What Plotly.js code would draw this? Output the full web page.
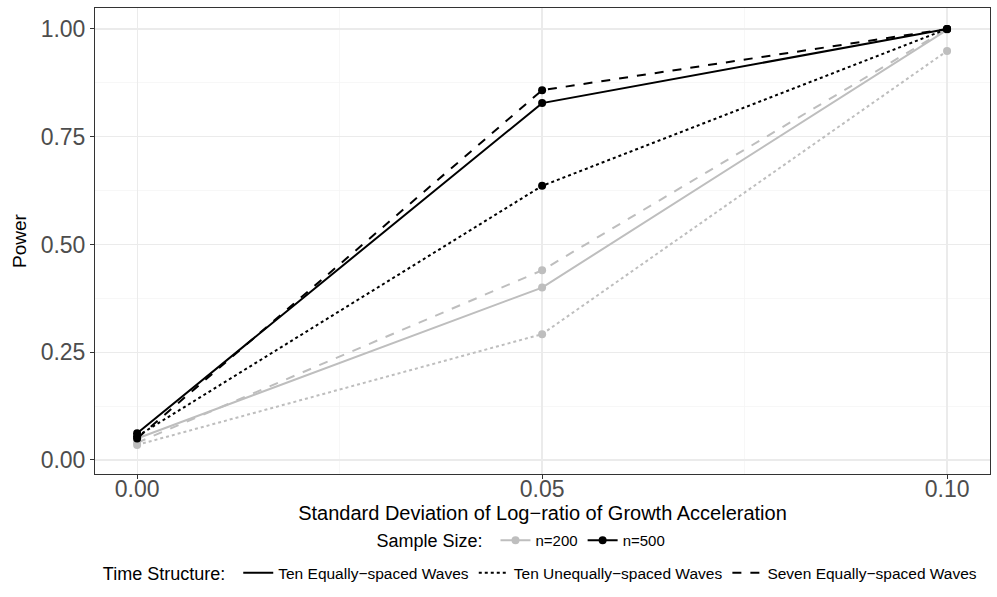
<!DOCTYPE html>
<html>
<head>
<meta charset="utf-8">
<script src="https://cdn.plot.ly/plotly-3.0.1.min.js"></script>
<style>html,body{margin:0;padding:0;background:#fff;}#chart{width:997px;height:597px;}</style>
</head>
<body>
<div id="chart"></div>
<script>
const sdValues = [0.00, 0.05, 0.10];
const sampleSizes = ["n=200", "n=500"];
const timeStructures = ["Ten Equally\u2212spaced Waves", "Ten Unequally\u2212spaced Waves", "Seven Equally\u2212spaced Waves"];
// power[sample][structure]
const power200Equal10 = [0.050, 0.400, 0.998];
const power200Unequal10 = [0.035, 0.292, 0.949];
const power200Equal7 = [0.040, 0.440, 1.000];
const power500Equal10 = [0.062, 0.828, 1.000];
const power500Unequal10 = [0.055, 0.636, 1.000];
const power500Equal7 = [0.050, 0.858, 1.000];

const colors = {"n=200": "#BEBEBE", "n=500": "#000000"};
const dashes = ["solid", "dot", "dash"];
const seriesData = {
  "n=200": [power200Equal10, power200Unequal10, power200Equal7],
  "n=500": [power500Equal10, power500Unequal10, power500Equal7]
};

const traces = [];
sampleSizes.forEach(s => {
  timeStructures.forEach((t, i) => {
    traces.push({
      x: sdValues, y: seriesData[s][i], type: "scatter", mode: "lines+markers",
      line: {color: colors[s], width: 2, dash: dashes[i]},
      marker: {color: colors[s], size: 8},
      showlegend: false, name: s + " " + t, hoverinfo: "x+y"
    });
  });
});
sampleSizes.forEach(s => {
  traces.push({x: [null], y: [null], type: "scatter", mode: "lines+markers",
    line: {color: colors[s], width: 2}, marker: {color: colors[s], size: 8},
    name: s, legend: "legend", showlegend: true});
});
timeStructures.forEach((t, i) => {
  traces.push({x: [null], y: [null], type: "scatter", mode: "lines",
    line: {color: "#000000", width: 2, dash: dashes[i]},
    name: t, legend: "legend2", showlegend: true});
});

const fam = "Liberation Sans, Arial, sans-serif";
const layout = {
  width: 997, height: 597,
  paper_bgcolor: "#fff", plot_bgcolor: "#fff",
  margin: {l: 95, r: 7, t: 8, b: 123},
  font: {family: fam, color: "#000"},
  xaxis: {
    range: [-0.0052, 0.1053], tickvals: sdValues, ticktext: ["0.00", "0.05", "0.10"],
    showgrid: true, gridcolor: "#EBEBEB", gridwidth: 1.2,
    minor: {tickvals: [0.025, 0.075], showgrid: true, gridcolor: "#F3F3F3", gridwidth: 0.7, ticks: ""},
    zeroline: false, showline: true, mirror: true, linecolor: "#333333", linewidth: 1,
    ticks: "outside", ticklen: 4, tickcolor: "#333333",
    ticklabelstandoff: -10,
    tickfont: {size: 23, color: "#4D4D4D"},
    title: {text: "Standard Deviation of Log\u2212ratio of Growth Acceleration", font: {size: 20, color: "#000"}, standoff: 0}
  },
  yaxis: {
    range: [-0.0325, 1.0487], tickvals: [0, 0.25, 0.5, 0.75, 1.0], ticktext: ["0.00", "0.25", "0.50", "0.75", "1.00"],
    showgrid: true, gridcolor: "#EBEBEB", gridwidth: 1.2,
    minor: {tickvals: [0.125, 0.375, 0.625, 0.875], showgrid: true, gridcolor: "#F3F3F3", gridwidth: 0.7, ticks: ""},
    zeroline: false, showline: true, mirror: true, linecolor: "#333333", linewidth: 1,
    ticks: "outside", ticklen: 4, tickcolor: "#333333",
    tickfont: {size: 23, color: "#4D4D4D"},
    title: {text: "Power", font: {size: 19, color: "#000"}, standoff: 8}
  },
  legend: {
    orientation: "h", xref: "container", yref: "container", x: 0.524, y: 0.094,
    xanchor: "center", yanchor: "middle",
    title: {text: "Sample Size: ", font: {size: 18}, side: "left"},
    font: {size: 15}, itemwidth: 30, tracegroupgap: 0, bgcolor: "rgba(0,0,0,0)"
  },
  legend2: {
    orientation: "h", xref: "container", yref: "container", x: 0.543, y: 0.04,
    xanchor: "center", yanchor: "middle",
    title: {text: "Time Structure: ", font: {size: 18}, side: "left"},
    font: {size: 15.5}, itemwidth: 30, bgcolor: "rgba(0,0,0,0)"
  },
  showlegend: true
};
Plotly.newPlot("chart", traces, layout, {displayModeBar: false, staticPlot: true});
</script>
</body>
</html>
